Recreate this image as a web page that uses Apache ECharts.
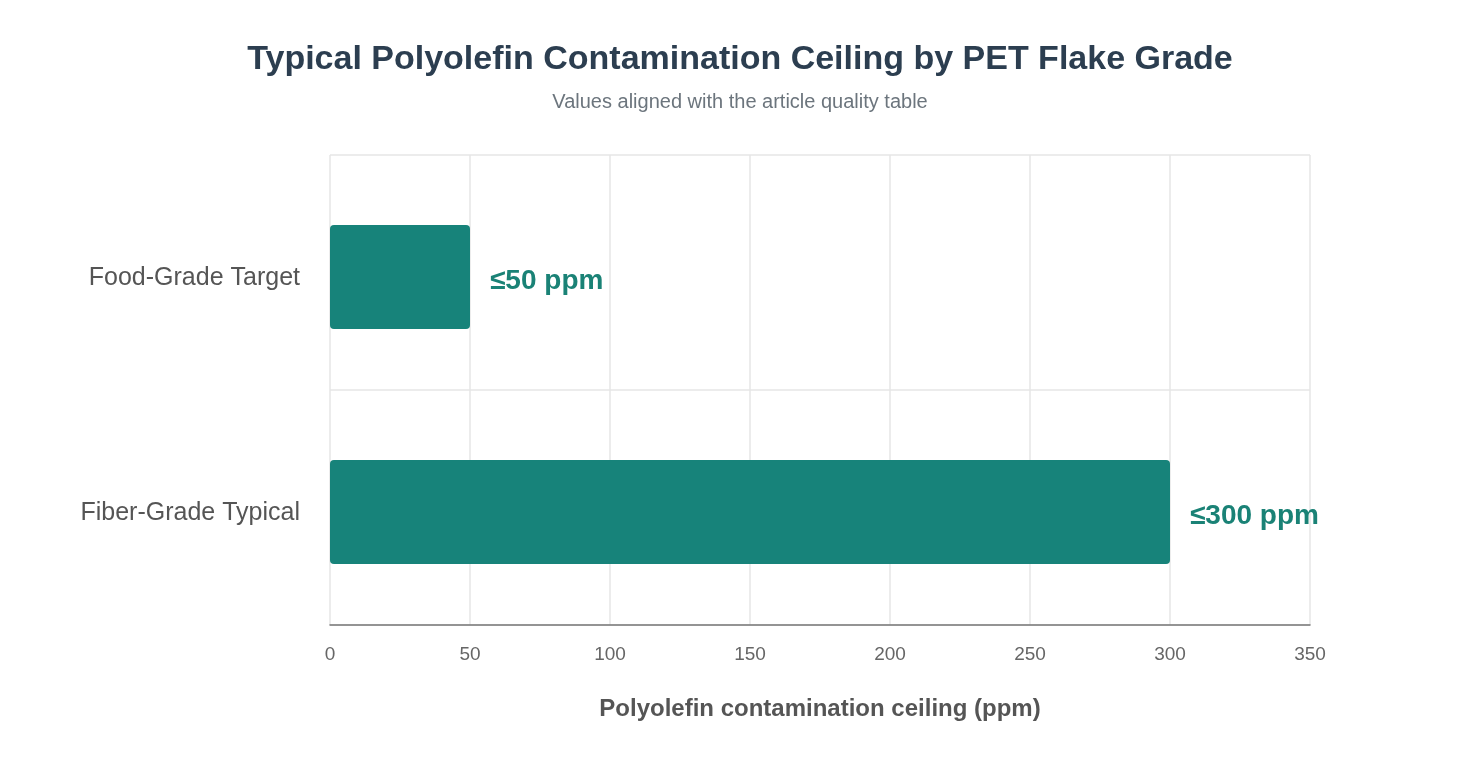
<!DOCTYPE html>
<html>
<head>
<meta charset="utf-8">
<script src="https://cdn.jsdelivr.net/npm/echarts@6/dist/echarts.min.js"></script>
<style>
  html, body { margin: 0; padding: 0; background: #fff; }
  #chart { width: 1480px; height: 760px; }
</style>
</head>
<body>
<div id="chart"></div>
<script>
// grades, top to bottom
const grades = ['Food-Grade Target', 'Fiber-Grade Typical'];
const ceilingPpm = [50, 300];
const valueLabels = ['≤50 ppm', '≤300 ppm'];

const chart = echarts.init(document.getElementById('chart'));

chart.setOption({
    animation: false,
    textStyle: { fontFamily: 'Helvetica, Arial, "Liberation Sans", sans-serif' },
    title: {
        text: 'Typical Polyolefin Contamination Ceiling by PET Flake Grade',
        subtext: 'Values aligned with the article quality table',
        left: 'center',
        top: 38,
        itemGap: 15,
        textStyle: { fontSize: 34, fontWeight: 'bold', color: '#2c3e50' },
        subtextStyle: { fontSize: 20, color: '#6c757d' },
    },
    grid: { left: 330, right: 170, top: 155, bottom: 135, containLabel: false },
    xAxis: {
        type: 'value',
        min: 0,
        max: 350,
        interval: 50,
        name: 'Polyolefin contamination ceiling (ppm)',
        nameLocation: 'middle',
        nameGap: 72,
        nameTextStyle: { fontSize: 24, fontWeight: 'bold', color: '#555' },
        axisLine: { show: true, lineStyle: { color: '#777', width: 1.5 } },
        axisTick: { show: false },
        axisLabel: { fontSize: 19, color: '#666', margin: 20 },
        splitLine: { show: true, lineStyle: { color: '#e6e6e6', width: 1.5 } },
    },
    yAxis: {
        type: 'category',
        data: grades,
        inverse: true,
        axisLine: { show: false },
        axisTick: { show: false },
        axisLabel: {
            margin: 30,
            formatter: '{g|{value}}',
            rich: { g: { fontSize: 25, color: '#555', padding: [11, 0, 0, 0] } },
        },
        splitLine: { show: true, lineStyle: { color: '#e6e6e6', width: 1.5 } },
    },
    series: [
        // empty spacer: nudges the real bars slightly down in their band
        { type: 'bar', data: [], barWidth: 9, barGap: '0%', silent: true },
        {
            type: 'bar',
            data: ceilingPpm,
            barWidth: 104,
            barGap: '0%',
            itemStyle: { color: '#17837a', borderRadius: 4 },
            label: {
                show: true,
                position: 'right',
                distance: 20,
                offset: [0, 4],
                fontSize: 28,
                fontWeight: 'bold',
                color: '#1a8276',
                formatter: (p) => valueLabels[p.dataIndex],
            },
        },
    ],
});
</script>
</body>
</html>
